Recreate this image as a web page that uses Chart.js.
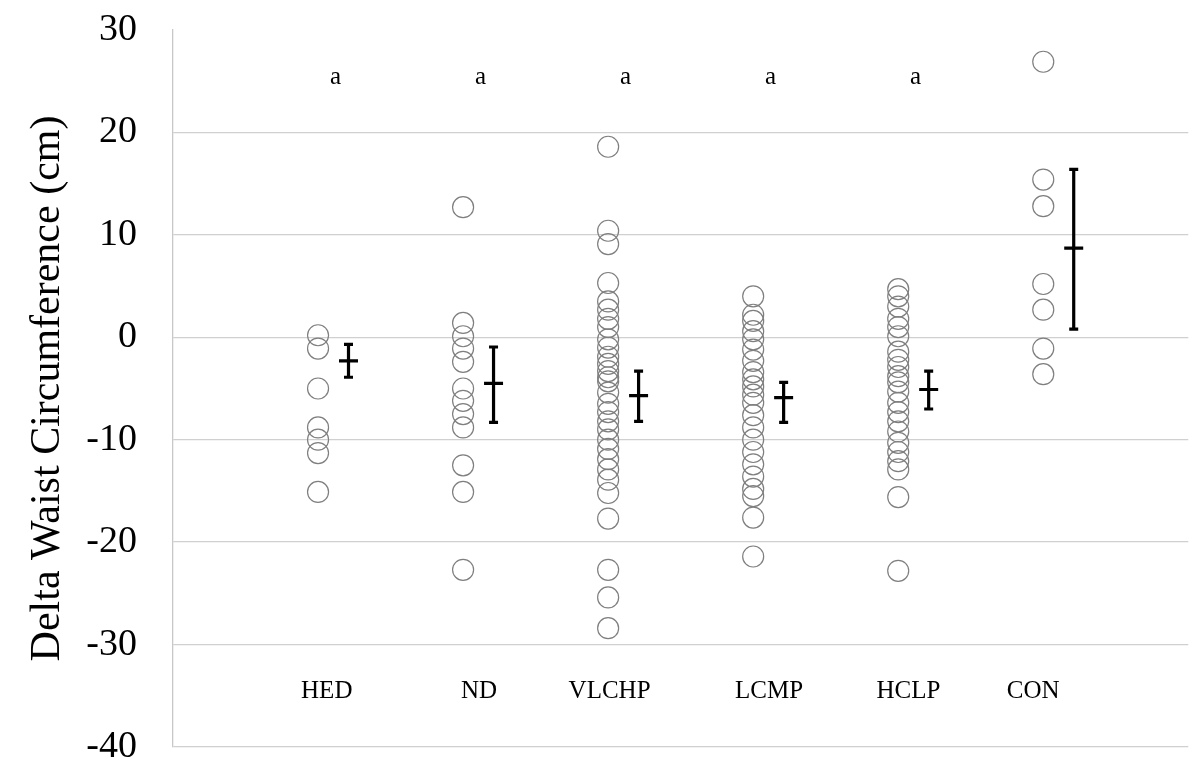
<!DOCTYPE html>
<html>
<head>
<meta charset="utf-8">
<script src="https://cdn.jsdelivr.net/npm/chart.js@4/dist/chart.umd.min.js"></script>
<style>
  html, body { margin: 0; padding: 0; background: #fff; }
  #wrap { width: 1200px; height: 779px; }
</style>
</head>
<body>
<div id="wrap"><canvas id="waist-chart"></canvas></div>
<script>
var groups = ["HED", "ND", "VLCHP", "LCMP", "HCLP", "CON"];
var letters = ["a", "a", "a", "a", "a", ""];

var hed = [0.2, -1.1, -5.0, -8.8, -10.0, -11.3, -15.1];
var nd = [12.7, 1.4, 0.1, -1.1, -2.4, -5.0, -6.2, -7.5, -8.8, -12.5, -15.1, -22.7];
var vlchp = [18.6, 10.4, 9.1, 5.3, 3.5, 2.7, 1.8, 1.0, -0.2, -1.0, -1.9, -2.6, -3.3, -3.9, -4.3,
             -5.4, -6.5, -7.3, -8.2, -9.0, -10.0, -10.9, -11.9, -12.9, -13.9, -15.2, -17.7, -22.7, -25.4, -28.4];
var lcmp = [4.0, 2.2, 1.6, 0.6, -0.2, -1.2, -2.3, -3.4, -4.1, -4.8, -5.6, -6.4, -7.6, -8.8, -10.0,
            -11.2, -12.4, -13.6, -14.8, -15.5, -17.6, -21.4];
var hclp = [4.7, 4.0, 3.0, 1.8, 1.0, 0.1, -1.4, -2.2, -2.9, -3.8, -4.4, -5.3, -6.4, -7.3, -8.2,
            -9.2, -10.3, -11.2, -12.1, -12.9, -15.6, -22.8];
var con = [26.9, 15.4, 12.8, 5.2, 2.7, -1.1, -3.6];

var means = [-2.3, -4.5, -5.7, -5.9, -5.1, 8.7];
var upper = [-0.7, -0.95, -3.3, -4.4, -3.3, 16.4];
var lower = [-3.9, -8.3, -8.2, -8.3, -7.0, 0.8];

var yTicks = [30, 20, 10, 0, -10, -20, -30, -40];

var values = [hed, nd, vlchp, lcmp, hclp, con];
var points = [];
values.forEach(function (arr, i) {
  arr.forEach(function (v) { points.push({ x: i + 1, y: v }); });
});

var serif = "'Liberation Serif', 'Times New Roman', serif";

// error bars, group names and letters, drawn through the scales
var extras = {
  id: 'extras',
  afterDatasetsDraw: function (chart) {
    var ctx = chart.ctx, xs = chart.scales.x, ys = chart.scales.y;
    ctx.save();
    ctx.strokeStyle = '#000';
    ctx.lineWidth = 3.2;
    ctx.lineCap = 'butt';
    groups.forEach(function (g, i) {
      var x = xs.getPixelForValue(i + 1.21);
      var yt = ys.getPixelForValue(upper[i]);
      var yb = ys.getPixelForValue(lower[i]);
      var ym = ys.getPixelForValue(means[i]);
      ctx.beginPath();
      ctx.moveTo(x, yt); ctx.lineTo(x, yb);
      ctx.moveTo(x - 4.5, yt); ctx.lineTo(x + 4.5, yt);
      ctx.moveTo(x - 4.5, yb); ctx.lineTo(x + 4.5, yb);
      ctx.moveTo(x - 9.5, ym); ctx.lineTo(x + 9.5, ym);
      ctx.stroke();
    });
    ctx.fillStyle = '#000';
    ctx.textAlign = 'center';
    ctx.textBaseline = 'middle';
    ctx.font = '25px ' + serif;
    var labelShift = [0.06, 0.11, 0.01, 0.11, 0.07, -0.07];
    groups.forEach(function (g, i) {
      ctx.fillText(g, xs.getPixelForValue(i + 1 + labelShift[i]), ys.getPixelForValue(-34.6));
      if (letters[i]) {
        ctx.fillText(letters[i], xs.getPixelForValue(i + 1.12), ys.getPixelForValue(25.4));
      }
    });
    ctx.restore();
  }
};

new Chart(document.getElementById('waist-chart'), {
  type: 'scatter',
  data: {
    datasets: [{
      data: points,
      pointStyle: 'circle',
      pointRadius: 10.5,
      pointHoverRadius: 10.5,
      borderColor: '#7f7f7f',
      borderWidth: 1.2,
      backgroundColor: 'rgba(0,0,0,0)'
    }]
  },
  options: {
    responsive: true,
    maintainAspectRatio: false,
    animation: false,
    layout: { padding: { left: 0, right: 10, top: 30, bottom: 32 } },
    plugins: {
      legend: { display: false },
      tooltip: { enabled: false }
    },
    scales: {
      x: {
        type: 'linear',
        display: false,
        min: 0,
        max: 7
      },
      y: {
        min: -40,
        max: 30,
        afterBuildTicks: function (scale) {
          scale.ticks = yTicks.map(function (v) { return { value: v }; });
        },
        afterFit: function (scale) {
          scale.width = 173;
          scale.paddingTop = 0;
          scale.paddingBottom = 0;
        },
        border: { display: true, color: '#c8c8c8', width: 1.3 },
        grid: {
          drawTicks: false,
          lineWidth: 1.3,
          color: function (c) { return c.tick && c.tick.value === 30 ? 'rgba(0,0,0,0)' : '#d0d0d0'; }
        },
        ticks: {
          padding: 36,
          color: '#000',
          font: { family: serif, size: 38 }
        },
        title: {
          display: true,
          text: 'Delta Waist Circumference (cm)',
          color: '#000',
          padding: { top: 23, bottom: 0 },
          font: { family: serif, size: 42 }
        }
      }
    }
  },
  plugins: [extras]
});
</script>
</body>
</html>
